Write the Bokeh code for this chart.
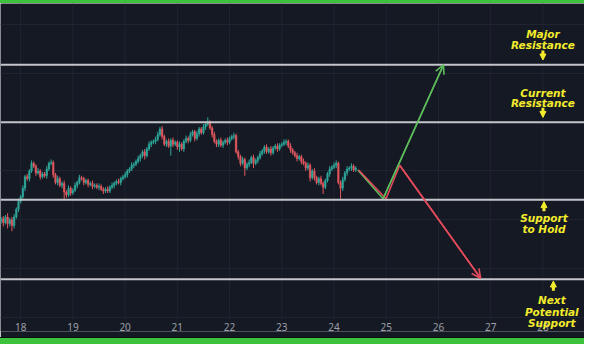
import numpy as np
from bokeh.plotting import figure
from bokeh.models import (Range1d, FixedTicker, ColumnDataSource, LabelSet, Arrow,
                          NormalHead, OpenHead, Span, Div)
from bokeh.layouts import column
from bokeh.embed import file_html
from bokeh.resources import INLINE
from bokeh.core.properties import value

# ---------------- data ----------------
start_day = 17 + 15 / 24          # first hourly candle (day of month, fractional)
first_open = 130
closes = [132, 128, 134, 127, 131, 125, 134, 142, 150, 155,
          164, 176, 174, 182, 190, 187, 180, 182, 176, 179,
          177, 184, 190, 191, 178, 170, 174, 167, 169, 160,
          157, 164, 159, 162, 167, 170, 175, 174, 170, 172,
          168, 169, 166, 167, 165, 166, 163, 161, 163, 161,
          165, 167, 169, 171, 170, 174, 176, 178, 182, 184,
          188, 189, 192, 195, 198, 202, 198, 205, 210, 212,
          213, 215, 220, 226, 218, 210, 213, 208, 214, 210,
          212, 207, 210, 205, 213, 216, 214, 220, 223, 216,
          221, 226, 222, 228, 231, 233, 227, 220, 213, 210,
          214, 209, 212, 214, 212, 216, 218, 219, 202, 197,
          190, 194, 185, 189, 191, 196, 190, 193, 196, 200,
          203, 207, 202, 205, 201, 206, 208, 205, 209, 210,
          212, 213, 208, 204, 201, 198, 195, 197, 192, 190,
          185, 188, 175, 182, 175, 170, 174, 169, 165, 172,
          179, 184, 186, 188, 190, 170, 164, 173, 180, 184,
          185, 187, 183, 185]
wick_up = [2, 3, 2, 4, 2, 3, 3, 2, 3, 2,
           3, 2, 3, 2, 3, 2, 2, 3, 2, 2,
           2, 3, 2, 3, 2, 2, 3, 2, 2, 3,
           2, 3, 2, 2, 3, 2, 3, 2, 2, 2,
           2, 2, 3, 2, 2, 3, 2, 2, 2, 3,
           2, 3, 2, 2, 3, 2, 2, 3, 2, 2,
           3, 2, 2, 3, 2, 2, 3, 2, 3, 2,
           2, 3, 3, 2, 3, 2, 2, 3, 2, 3,
           2, 2, 3, 2, 2, 3, 2, 3, 2, 2,
           3, 2, 2, 3, 2, 5, 2, 2, 3, 2,
           2, 3, 2, 2, 3, 2, 2, 3, 2, 2,
           2, 3, 2, 2, 3, 2, 3, 2, 2, 3,
           2, 2, 3, 2, 3, 2, 2, 3, 2, 2,
           3, 2, 2, 3, 2, 2, 3, 2, 2, 3,
           2, 3, 2, 2, 3, 2, 2, 3, 2, 2,
           2, 3, 2, 3, 3, 2, 2, 3, 2, 3,
           2, 3, 2, 2]
wick_dn = [3, 4, 2, 5, 3, 6, 3, 2, 3, 2,
           2, 3, 2, 3, 2, 2, 3, 2, 3, 2,
           2, 3, 2, 2, 3, 2, 3, 2, 3, 9,
           3, 2, 3, 2, 2, 3, 2, 2, 3, 2,
           3, 2, 3, 2, 2, 3, 2, 3, 2, 2,
           2, 2, 3, 2, 2, 3, 2, 2, 3, 2,
           2, 3, 2, 2, 3, 2, 4, 2, 2, 3,
           2, 3, 2, 2, 3, 2, 3, 2, 10, 3,
           2, 3, 5, 2, 3, 2, 3, 2, 2, 3,
           2, 3, 2, 2, 3, 2, 2, 3, 2, 3,
           3, 2, 3, 2, 3, 2, 2, 3, 2, 3,
           3, 2, 8, 2, 3, 2, 5, 2, 3, 2,
           2, 3, 2, 2, 3, 2, 2, 3, 2, 2,
           2, 3, 2, 3, 2, 2, 3, 2, 3, 2,
           3, 2, 4, 2, 3, 2, 3, 2, 7, 2,
           2, 3, 2, 2, 3, 2, 11, 3, 2, 3,
           2, 3, 2, 2]

level_prices = [293, 233, 152, 69]
day_ticks = [18, 19, 20, 21, 22, 23, 24, 25, 26, 27, 28]
grid_prices = [29, 80, 131, 182, 233, 284, 335]
pane_bottom, pane_top = 27, 357

bull_days = [24.455, 24.94, 26.097]
bull_prices = [183, 153, 293]
bear_days = [24.47, 24.996, 25.257, 26.806]
bear_prices = [183, 153, 188, 70]

note_days = [28.0, 28.0, 28.0, 28.0, 28.02, 28.02, 28.17, 28.17, 28.17]
note_prices = [325, 314, 264, 253, 133, 121, 47, 35, 23]
note_texts = ["Major", "Resistance", "Current", "Resistance", "Support", "to Hold",
              "Next", "Potential", "Support"]
marker_days = [28.0, 28.0, 28.02, 28.2]
marker_tail = [308, 248, 140, 57]
marker_tip = [298, 238, 150, 67]

# ---------------- derived ----------------
n = len(closes)
xs = start_day + np.arange(n) / 24.0
opens = np.array([first_open] + closes[:-1], dtype=float)
cl = np.array(closes, dtype=float)
highs = np.maximum(opens, cl) + np.array(wick_up)
lows = np.minimum(opens, cl) - np.array(wick_dn)
up = cl >= opens
UP, DN = "#2fa89b", "#e2585f"
colors = [UP if u else DN for u in up]
src = ColumnDataSource(dict(x=xs, o=opens, c=cl, h=highs, l=lows, col=colors))

BG = "#151924"
GRID = "#202431"

p = figure(width=584, height=334, output_backend="svg", toolbar_location=None,
           x_range=Range1d(17.614, 28.796), y_range=Range1d(14.3, 357),
           y_axis_location=None, min_border_left=0, min_border_right=0,
           min_border_top=0, min_border_bottom=6)
p.background_fill_color = BG
p.border_fill_color = BG
p.outline_line_color = None

p.xaxis.ticker = FixedTicker(ticks=day_ticks)
p.xaxis.axis_line_color = None
p.xaxis.major_tick_line_color = None
p.xaxis.major_tick_out = 0
p.xaxis.major_tick_in = 0
p.xaxis.minor_tick_line_color = None
p.xaxis.major_label_text_color = "#9ea1aa"
p.xaxis.major_label_text_font = "Noto Sans"
p.xaxis.major_label_text_font_size = "10px"
p.xaxis.major_label_standoff = -9
p.xgrid.visible = False
p.ygrid.ticker = FixedTicker(ticks=grid_prices)
p.ygrid.grid_line_color = GRID

# vertical grid restricted to the price pane
p.segment(x0=day_ticks, y0=[pane_bottom] * len(day_ticks),
          x1=day_ticks, y1=[pane_top] * len(day_ticks), line_color=GRID, line_width=1)

# candles
p.segment("x", "h", "x", "l", source=src, color="col", line_width=1)
p.vbar(x="x", top="o", bottom="c", width=0.7 / 24, source=src,
       fill_color="col", line_color="col", line_width=0.5)

# levels
for lv in level_prices:
    p.add_layout(Span(location=lv, dimension="width", line_color="#c4c5cb", line_width=2))

# projections
GREEN, RED = "#5dbb5a", "#e34a5c"
p.line(bull_days, bull_prices, line_color=GREEN, line_width=1.6)
p.add_layout(Arrow(end=OpenHead(size=9, line_color=GREEN, line_width=1.6),
                   x_start=bull_days[-2], y_start=bull_prices[-2],
                   x_end=bull_days[-1], y_end=bull_prices[-1],
                   line_color=GREEN, line_width=1.6))
p.line(bear_days, bear_prices, line_color=RED, line_width=1.6)
p.add_layout(Arrow(end=OpenHead(size=9, line_color=RED, line_width=1.6),
                   x_start=bear_days[-2], y_start=bear_prices[-2],
                   x_end=bear_days[-1], y_end=bear_prices[-1],
                   line_color=RED, line_width=1.6))

# annotations
YEL = "#f3ec2c"
for xd, yt, yh in zip(marker_days, marker_tail, marker_tip):
    p.add_layout(Arrow(end=NormalHead(size=6, fill_color=YEL, line_color=YEL, line_width=1),
                       x_start=xd, y_start=yt, x_end=xd, y_end=yh,
                       line_color=YEL, line_width=3))
nsrc = ColumnDataSource(dict(x=note_days, y=note_prices, t=note_texts))
p.add_layout(LabelSet(x="x", y="y", text="t", source=nsrc, text_align="center",
                      text_baseline="middle", text_color=YEL,
                      text_font=value("DejaVu Sans"), text_font_style="bold italic",
                      text_font_size="10.5px"))

top_band = Div(width=584, height=3, margin=0, styles={"background-color": "#3cc23c"})
dark_line = Div(width=584, height=1, margin=0, styles={"background-color": "#0b0c0e"})
bot_band = Div(width=584, height=6, margin=0, styles={"background-color": "#3cc23c"})
page = column(top_band, p, dark_line, bot_band, spacing=0)

open("out.html", "w").write(file_html(page, INLINE))
